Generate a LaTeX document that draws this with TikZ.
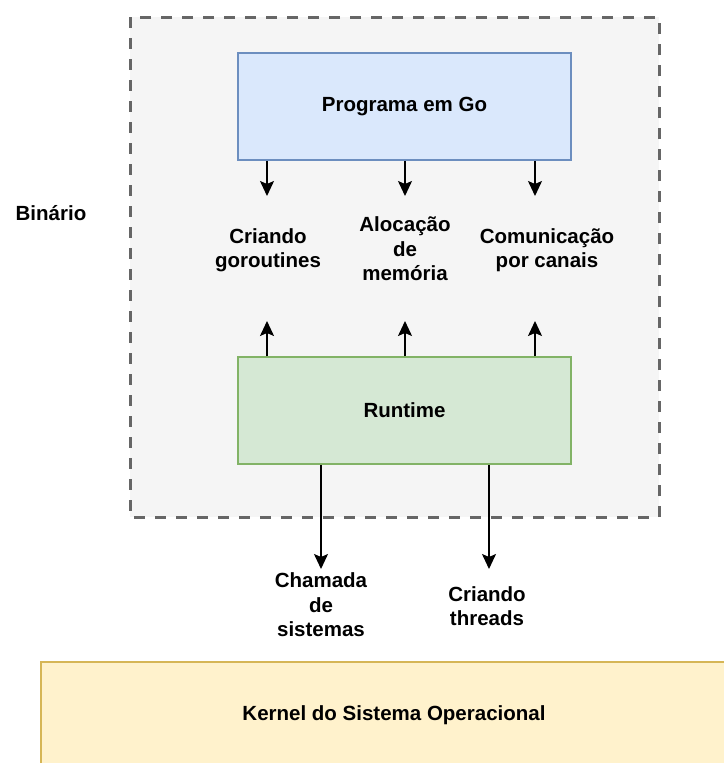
\documentclass[tikz,border=0pt]{standalone}
\usepackage{fontspec}
\setmainfont{Liberation Sans}
\usetikzlibrary{arrows.meta}
\definecolor{binfill}{HTML}{F5F5F5}
\definecolor{bindraw}{HTML}{666666}
\definecolor{progfill}{HTML}{DAE8FC}
\definecolor{progdraw}{HTML}{6C8EBF}
\definecolor{rtfill}{HTML}{D5E8D4}
\definecolor{rtdraw}{HTML}{82B366}
\definecolor{kernfill}{HTML}{FFF2CC}
\definecolor{kerndraw}{HTML}{D6B656}
\tikzset{
  binbox/.style={draw=bindraw, fill=binfill, line width=3pt, dash pattern=on 11pt off 10pt},
  layer/.style={line width=1.5pt, inner sep=0pt, font=\labelfont},
  lbl/.style={inner sep=0pt, align=center, font=\labelfont},
  arr/.style={line width=1.6pt, -{Stealth[length=15pt,width=14pt,inset=3pt]}},
}
\newcommand{\labelfont}{\fontsize{20.5}{24.5}\selectfont\bfseries}
\begin{document}
\begin{tikzpicture}[x=1pt,y=-1pt]
\useasboundingbox (0,0) rectangle (723,763);
\fill[white] (0,0) rectangle (723,763);

% container for the compiled binary
\draw[binbox] (130,17) rectangle (659,517);
\node[lbl] (bin) at (51,213) {Binário};

% layers
\node[layer, draw=progdraw, fill=progfill, minimum width=333pt, minimum height=107pt] (prog) at (404.5,106.5) {Programa em Go};
\node[layer, draw=rtdraw, fill=rtfill, minimum width=333pt, minimum height=107pt] (rt) at (404.5,410.5) {Runtime};
\node[layer, draw=kerndraw, fill=kernfill, minimum width=706pt, minimum height=106pt] (kern) at (394,715) {Kernel do Sistema Operacional};

% services between program and runtime
\node[lbl] (gor) at (268,250) {Criando\\goroutines};
\node[lbl] (mem) at (405,249) {Alocação\\de\\memória};
\node[lbl] (can) at (547,250) {Comunicação\\por canais};

% services the runtime asks of the kernel
\node[lbl] (sys) at (321,605) {Chamada\\de\\sistemas};
\node[lbl] (thr) at (487,606) {Criando\\threads};

% arrow tips
\coordinate (d1) at (267,196);
\coordinate (d2) at (405,196);
\coordinate (d3) at (535,196);
\coordinate (u1) at (267,321);
\coordinate (u2) at (405,321);
\coordinate (u3) at (535,321);
\coordinate (k1) at (321,569);
\coordinate (k2) at (489,569);

\draw[arr] (prog.south -| d1) -- (d1);
\draw[arr] (prog.south -| d2) -- (d2);
\draw[arr] (prog.south -| d3) -- (d3);
\draw[arr] (rt.north -| u1) -- (u1);
\draw[arr] (rt.north -| u2) -- (u2);
\draw[arr] (rt.north -| u3) -- (u3);
\draw[arr] (rt.south -| k1) -- (k1);
\draw[arr] (rt.south -| k2) -- (k2);
\end{tikzpicture}
\end{document}
